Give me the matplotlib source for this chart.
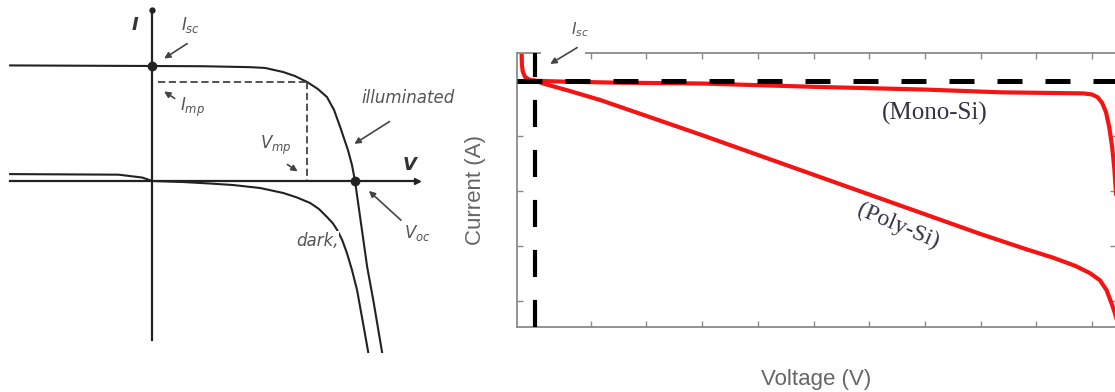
import matplotlib.pyplot as plt
from matplotlib.patches import Rectangle

# ---- left panel: schematic I-V curves (normalised units) ----
illum_v = [-0.421, 0.0, 0.15, 0.289, 0.334, 0.387, 0.422, 0.458, 0.490, 0.517, 0.538, 0.556,
           0.567, 0.579, 0.591, 0.600, 0.618, 0.636, 0.654, 0.680]
illum_i = [1.005, 1.0, 0.998, 0.99, 0.983, 0.948, 0.913, 0.861, 0.80, 0.730, 0.617, 0.470,
           0.374, 0.270, 0.139, 0.0, -0.374, -0.748, -1.035, -1.487]
dark_v = [-0.421, -0.1, -0.03, 0.0, 0.091, 0.171, 0.239, 0.319, 0.387, 0.428, 0.467, 0.493,
          0.517, 0.535, 0.547, 0.562, 0.576, 0.591, 0.606, 0.621, 0.639]
dark_i = [0.06, 0.055, 0.03, 0.0, -0.009, -0.022, -0.035, -0.061, -0.104, -0.143, -0.191, -0.243,
          -0.313, -0.370, -0.426, -0.513, -0.626, -0.774, -0.948, -1.191, -1.487]
v_mp, i_mp = 0.458, 0.861
v_oc, i_sc = 0.600, 1.0

# ---- right panel: measured curves ----
mono_v = [-0.24, -0.235, -0.22, -0.18, -0.1, 0.0, 0.5, 1.5, 3.0, 5.0, 7.0, 8.35, 9.5, 9.85, 10.0,
          10.1, 10.18, 10.25, 10.31, 10.36, 10.4, 10.44, 10.47]
mono_i = [4.5, 4.3, 4.17, 4.07, 4.02, 4.0, 3.985, 3.965, 3.95, 3.89, 3.84, 3.79, 3.775, 3.77, 3.75,
          3.70, 3.60, 3.43, 3.15, 2.8, 2.4, 1.8, 1.0]
poly_v = [0.0, 0.18, 0.57, 1.17, 2.0, 3.0, 4.0, 5.0, 6.0, 7.0, 8.0, 8.8, 9.3, 9.7, 9.96, 10.14,
          10.26, 10.35, 10.41, 10.47, 10.5]
poly_i = [4.0, 3.94, 3.83, 3.65, 3.36, 3.01, 2.65, 2.29, 1.93, 1.57, 1.21, 0.94, 0.78, 0.63, 0.50,
          0.37, 0.19, -0.05, -0.23, -0.45, -0.6]
isc_right = 4.0
v_ticks = list(range(0, 11))
i_ticks = list(range(0, 5))

fig = plt.figure(figsize=(11.15, 3.92), dpi=100)

ax1 = fig.add_axes([0, 0, 480 / 1115, 1])
ax1.set_xlim(-0.451, 0.970)
ax1.set_ylim(-1.835, 1.574)
ax1.axis("off")

ink = "#222222"
gray = "#555555"
# axes of the schematic
ax1.plot([-0.421, 0.784], [0, 0], color=ink, lw=1.6)
ax1.plot([0.784], [0], marker=">", color=ink, ms=5)
ax1.plot([0, 0], [-1.38, 1.487], color=ink, lw=1.6)
ax1.plot([0], [1.487], marker="o", color=ink, ms=3.5)

ax1.plot(illum_v, illum_i, color=ink, lw=1.5)
ax1.plot(dark_v, dark_i, color=ink, lw=1.5)
ax1.plot([0.018, v_mp], [i_mp, i_mp], color="#444444", lw=1.3, ls=(0, (4, 2)))
ax1.plot([v_mp, v_mp], [i_mp, 0.01], color="#444444", lw=1.3, ls=(0, (4, 2)))
ax1.plot([0, v_oc], [i_sc, 0], "o", color=ink, ms=6, ls="none")

txt = dict(color=gray, fontsize=12, style="italic", ha="center", va="center")
ax1.text(-0.05, 1.355, "I", color="#333333", fontsize=13, weight="bold", style="italic", ha="center", va="center")
ax1.text(0.762, 0.14, "V", color="#333333", fontsize=13, weight="bold", style="italic", ha="center", va="center")
ax1.text(0.112, 1.355, r"$I_{sc}$", **txt)
ax1.text(0.12, 0.64, r"$I_{mp}$", **txt)
ax1.text(0.364, 0.31, r"$V_{mp}$", **txt)
ax1.text(0.757, 0.72, "illuminated", **txt)
ax1.text(0.785, -0.45, r"$V_{oc}$", **txt)
ax1.text(0.488, -0.52, "dark,", bbox=dict(fc="white", ec="none", pad=0.5), **txt)

arr = dict(arrowstyle="-|>", color="#444444", lw=1.2, mutation_scale=9)
ax1.annotate("", xy=(0.028, 1.052), xytext=(0.11, 1.208), arrowprops=arr)
ax1.annotate("", xy=(0.028, 0.792), xytext=(0.073, 0.705), arrowprops=arr)
ax1.annotate("", xy=(0.437, 0.07), xytext=(0.393, 0.157), arrowprops=arr)
ax1.annotate("", xy=(0.591, 0.31), xytext=(0.709, 0.53), arrowprops=arr)
ax1.annotate("", xy=(0.635, -0.07), xytext=(0.742, -0.357), arrowprops=arr)

# ---- right panel ----
ax2 = fig.add_axes([517 / 1115, 65 / 392, 599 / 1115, 273.7 / 392])
ax2.set_xlim(-0.323, 10.43)
ax2.set_ylim(-0.482, 4.5)

red = "#f51414"
ax2.plot(mono_v, mono_i, color=red, lw=3.0, zorder=2)
ax2.plot(poly_v, poly_i, color=red, lw=3.0, zorder=2)
ax2.axhline(isc_right, color="black", lw=3.6, ls=(0, (5, 4.6)), zorder=3)
ax2.axvline(0, color="black", lw=3.0, ls=(0, (6.5, 5.5)), zorder=3)

for s in ax2.spines.values():
    s.set_color("#8a8a8a")
    s.set_linewidth(1.3)
ax2.set_xticks(v_ticks)
ax2.set_yticks(i_ticks)
ax2.tick_params(direction="in", length=4, width=1, color="#8a8a8a",
                top=True, right=True, labelbottom=False, labelleft=False)

ax2.set_xlabel("Voltage (V)", fontsize=16, color="#666666", family="Liberation Sans", labelpad=30)
ax2.set_ylabel("Current (A)", fontsize=16, color="#666666", family="Liberation Sans", labelpad=22)

ax2.text(7.18, 3.4, "(Mono-Si)", fontsize=18, family="Liberation Serif", color="#333344",
         ha="center", va="center")
ax2.text(6.52, 1.36, "(Poly-Si)", fontsize=17, family="Liberation Serif", color="#333344",
         ha="center", va="center", rotation=-23)

# white patch hiding the top spine behind the Isc label
ax2.add_patch(Rectangle((0.1, 4.42), 0.8, 0.16, transform=ax2.transData, fc="white",
                        ec="none", clip_on=False, zorder=4))
ax2.text(0.8, 4.93, r"$I_{sc}$", fontsize=11, color=gray, ha="center", va="center")
ax2.annotate("", xy=(0.23, 4.28), xytext=(0.8, 4.63),
             arrowprops=dict(arrowstyle="-|>", color="#444444", lw=1.2, mutation_scale=9), zorder=5)

fig.savefig("out.png", dpi=100)
